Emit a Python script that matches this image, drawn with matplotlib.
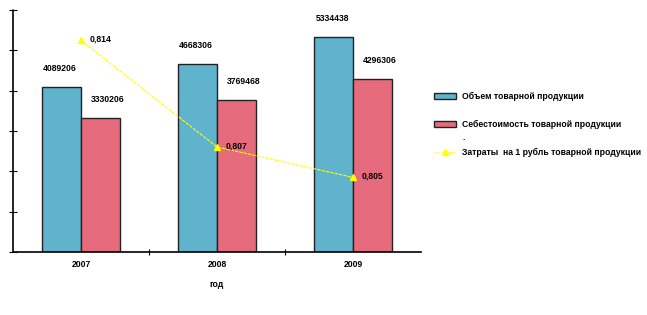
import matplotlib
matplotlib.use('Agg')
import matplotlib.pyplot as plt
import matplotlib.patches as mpatches
import matplotlib.lines as mlines
import numpy as np

plt.rcParams['font.family'] = ['Liberation Sans', 'DejaVu Sans']
plt.rcParams['font.weight'] = 'bold'

# data
years = ['2007', '2008', '2009']
output_vol = [4089206, 4668306, 5334438]     # Объем товарной продукции
cost = [3330206, 3769468, 4296306]           # Себестоимость товарной продукции
cost_per_rub = [0.814, 0.807, 0.805]         # Затраты на 1 рубль

blue = '#5fb3cc'
pink = '#e66c7d'
fs = 6.2

fig = plt.figure(figsize=(6.47, 3.15), dpi=100)
ax = fig.add_axes([13 / 647, 1 - 252 / 315, 408 / 647, 242 / 315])

x = np.arange(len(years))
w = 0.287
b1 = ax.bar(x - w / 2, output_vol, w, color=blue, edgecolor='#222222', linewidth=1)
b2 = ax.bar(x + w / 2, cost, w, color=pink, edgecolor='#222222', linewidth=1)

for xi, v in zip(x - w / 2, output_vol):
    ax.annotate(str(v), (xi, v), xytext=(-1, 10), textcoords='offset points',
                ha='center', va='bottom', fontsize=fs)
for xi, v in zip(x + w / 2, cost):
    ax.annotate(str(v), (xi, v), xytext=(5, 10), textcoords='offset points',
                ha='center', va='bottom', fontsize=fs)

ax.set_xlim(-0.5, 2.5)
ax.set_ylim(0, 6000000)
ax.set_yticks(np.arange(0, 6000001, 1000000))
ax.set_yticklabels([])
ax.set_xticks([0.5, 1.5])
ax.set_xticklabels([])
ax.tick_params(axis='y', direction='inout', length=6, width=0.8)
ax.tick_params(axis='x', direction='inout', length=4, width=0.8)
for s in ['top', 'right']:
    ax.spines[s].set_visible(False)
for s in ['left', 'bottom']:
    ax.spines[s].set_linestyle((0, (1, 1)))
    ax.spines[s].set_linewidth(1.2)

for xi, yr in zip(x, years):
    ax.text(xi, -0.035, yr, transform=ax.get_xaxis_transform(), ha='center',
            va='top', fontsize=fs)
ax.text(1, -0.115, 'год', transform=ax.get_xaxis_transform(), ha='center',
        va='top', fontsize=fs)

# secondary axis for cost per rouble
ax2 = ax.twinx()
ax2.set_ylim(0.8001, 0.816)
ax2.axis('off')
ax2.plot(x, cost_per_rub, color='#ffff00', linewidth=0.8, linestyle=(0, (3, 1)),
         marker='^', markersize=5, markerfacecolor='#ffff00', markeredgecolor='#ffff00')
for xi, v in zip(x, cost_per_rub):
    ax2.annotate(('%.3f' % v).replace('.', ','), (xi, v), xytext=(6, 1),
                 textcoords='offset points', ha='left', va='center', fontsize=fs)

# legend
h1 = mpatches.Patch(facecolor=blue, edgecolor='#222222', linewidth=1)
h2 = mpatches.Patch(facecolor=pink, edgecolor='#222222', linewidth=1)
h3 = mlines.Line2D([], [], color='#ffff00', linewidth=0.8, linestyle=(0, (1, 1)),
                   marker='^', markersize=5)
fig.legend([h1, h2, h3],
           ['Объем товарной продукции', 'Себестоимость товарной продукции',
            'Затраты  на 1 рубль товарной продукции'],
           loc='upper left', bbox_to_anchor=(434 / 647, 1 - 92 / 315),
           frameon=False, fontsize=fs, labelspacing=2.2, handlelength=2.6,
           handleheight=0.7, handletextpad=0.6, borderaxespad=0, borderpad=0)
fig.text(462 / 647, 1 - 138 / 315, '.', fontsize=fs, ha='left', va='center')

fig.savefig('out.png', dpi=100)
